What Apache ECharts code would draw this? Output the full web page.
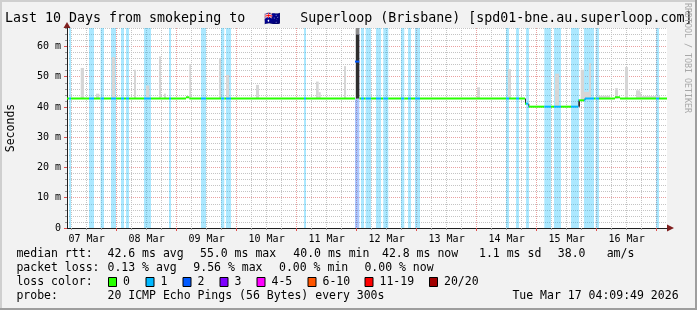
<!DOCTYPE html>
<html><head><meta charset="utf-8">
<script src="https://cdn.jsdelivr.net/npm/echarts@6/dist/echarts.min.js"></script>
<style>html,body{margin:0;padding:0;background:#f2f2f2}#c{width:697px;height:310px}</style>
</head><body><div id="c"></div>
<script>
// ---- time axis: hours since 07 Mar 00:00 ----
const START_H = 4.1636, END_H = 244.1636, Y_MAX = 66.1;
const dayLabels = ['07 Mar','08 Mar','09 Mar','10 Mar','11 Mar','12 Mar','13 Mar','14 Mar','15 Mar','16 Mar'];
const dayLabelHours = [12,36,60,84,108,132,156,180,204,228];
const midnightHours = [24,48,72,96,120,144,168,192,216,240];
const sixHourHours = [6,12,18,30,36,42,54,60,66,78,84,90,102,108,114,126,132,138,150,156,162,174,180,186,198,204,210,222,228,234];
const yMajorTicks = [0,10,20,30,40,50,60];
const yMinorTicks = [2,4,6,8,12,14,16,18,22,24,26,28,32,34,36,38,42,44,46,48,52,54,56,58,62,64,66];

// loss colours (smokeping)
const lossNames  = ['0','1','2','3','4-5','6-10','11-19','20/20'];
const lossColors = ['#26ff00','#00b8ff','#0059ff','#7e00ff','#ff00ff','#ff5500','#ff0000','#a10000'];
const lossBgColors = ['rgba(38,255,0,0)','rgba(0,184,255,0.33)','rgba(0,89,255,0.33)','rgba(126,0,255,0.33)'];

// packet-loss periods [start h, end h, loss level]
const lossBands = [
 [4.96,5.76,1],[12.96,14.96,1],[17.6,18.96,1],[21.76,23.76,1],[25.76,26.96,1],[27.76,28.96,1],
 [34.96,37.76,1],[44.96,45.76,1],[57.76,59.76,1],[65.76,67.08,1],[67.76,69.76,1],
 [98.96,99.76,1],[119.36,121.08,2],[121.76,122.96,1],[123.64,125.76,1],[127.76,129.76,1],[130.68,132.68,1],
 [137.76,139.08,1],[140.56,141.76,1],[143.36,145.36,1],
 [179.76,180.96,1],[183.76,184.96,1],[187.76,188.96,1],[195.08,197.76,1],[198.96,201.76,1],
 [205.76,208.96,1],[210.96,214.96,1],[215.64,216.96,1],[239.76,240.96,1]
];

// median rtt (ms) [start h, end h, value]
const medianSegs = [
 [4.1636,51.76,42.8],[51.76,53.08,43.2],[53.08,119.36,42.8],[119.36,121.08,55.0],
 [121.08,187.36,42.8],[187.36,188.68,41.1],[188.68,208.68,40.1],[208.68,211.36,42.2],
 [211.36,223.36,42.8],[223.36,225.36,43.2],[225.36,244.1636,42.8]
];

// smoke (ping spread) [start h, end h, low ms, high ms, shade 0 light / 1 mid / 2 dark]
const smoke = [
 [9.64,10.96,42.8,52.9,0],[15.76,17.08,42.8,44.4,0],[22.04,23.36,42.8,56.5,0],[30.96,31.76,42.8,52.3,0],
 [35.76,37.08,42.8,47.1,0],[40.96,41.76,42.8,56.7,0],[42.96,43.76,42.8,44.4,0],[53.08,53.76,42.8,54.2,0],
 [64.96,65.76,42.8,56.2,0],[67.76,68.96,42.8,50.6,0],[79.76,80.96,42.8,47.3,0],[103.76,104.84,42.8,48.4,0],
 [104.84,105.64,42.8,44.9,0],[114.96,115.76,42.8,53.5,0],
 [119.36,119.76,42.8,66.1,0],[119.76,121.08,42.8,64.0,2],[119.76,121.08,64.0,66.1,1],
 [168.16,169.36,42.8,46.5,0],
 [180.56,181.76,42.8,52.5,0],[199.36,200.96,40.1,51.0,0],[209.64,210.96,42.2,52.3,0],[210.96,213.36,42.8,45.0,0],
 [212.96,213.76,42.8,54.5,0],[216.56,221.36,42.8,43.7,0],[223.36,224.56,42.8,46.2,0],[227.36,228.56,42.8,53.2,0],
 [231.76,233.36,42.8,45.5,0],[232.96,233.76,42.8,44.8,0],[233.76,241.36,42.8,43.6,0],
 [187.36,187.76,41.1,42.8,2],[188.68,189.08,40.1,41.1,2],[208.68,209.36,40.1,42.2,2],[211.16,211.56,42.2,42.8,2]
];
const smokeShades = ['#d6d6d6','#8c8c8c','#2e2e2e'];

// legend / statistics text
const statRows = [
 [['median rtt:',16.4],['42.6 ms avg',107.5],['55.0 ms max',200],['40.0 ms min',293.3],['42.8 ms now',382],['1.1 ms sd',479],['38.0',557.8],['am/s',606.7]],
 [['packet loss:',16.4],['0.13 % avg',107.5],['9.56 % max',193.3],['0.00 % min',279],['0.00 % now',364.4]],
 [['loss color:',16.4]],
 [['probe:',16.4],['20 ICMP Echo Pings (56 Bytes) every 300s',107.5],['Tue Mar 17 04:09:49 2026',512.4]]
];
const swatchX = [108,145.5,182.5,219.5,256.5,307.5,364.5,429];
const titleParts = ['Last 10 Days from smokeping to ','🇦🇺',' Superloop (Brisbane) [spd01-bne.au.superloop.com]'];

// ---- derived: split median by loss level ----
function lossAt(t){ for(const b of lossBands){ if(t>=b[0]&&t<b[1]) return b[2]; } return 0; }
const medianPieces = [];
medianSegs.forEach(s=>{
  const cuts=[s[0],s[1]];
  lossBands.forEach(b=>{ if(b[0]>s[0]&&b[0]<s[1]) cuts.push(b[0]); if(b[1]>s[0]&&b[1]<s[1]) cuts.push(b[1]); });
  cuts.sort((a,b)=>a-b);
  for(let i=0;i<cuts.length-1;i++){ const m=(cuts[i]+cuts[i+1])/2; medianPieces.push([cuts[i],cuts[i+1],s[2],lossAt(m)]); }
});

const MONO = '"DejaVu Sans Mono", monospace';
const chart = echarts.init(document.getElementById('c'), null, {renderer:'canvas'});

const G = {left:67, top:28, width:600, height:200};
const gridLineGray = {show:true, lineStyle:{color:'#c4c4c4', width:1, type:[1,1]}};
const gridLineRed  = {show:true, lineStyle:{color:'#eaa0a0', width:1, type:[1,1]}};

const graphic = [];
graphic.push({type:'rect', shape:{x:0,y:0,width:697,height:2}, style:{fill:'#cfcfcf'}, silent:true});
graphic.push({type:'rect', shape:{x:0,y:0,width:2,height:310}, style:{fill:'#cfcfcf'}, silent:true});
graphic.push({type:'rect', shape:{x:0,y:308,width:697,height:2}, style:{fill:'#9e9e9e'}, silent:true});
graphic.push({type:'rect', shape:{x:695,y:0,width:2,height:310}, style:{fill:'#9e9e9e'}, silent:true});
graphic.push({type:'text', x:5, y:19, style:{
  text:'{a|'+titleParts[0]+'}{f|'+titleParts[1]+'}{a|'+titleParts[2]+'}',
  font:'13.3px '+MONO, fill:'#000', textVerticalAlign:'middle',
  rich:{a:{fontFamily:'DejaVu Sans Mono', fontSize:13.3, color:'#000'},
        f:{fontSize:13.3, width:39, align:'center', color:'#000'}}}});
graphic.push({type:'text', x:11, y:128, rotation:Math.PI/2, style:{text:'Seconds', font:'11.5px '+MONO, fill:'#000', textAlign:'center', textVerticalAlign:'middle'}});
graphic.push({type:'text', x:687, y:58, rotation:-Math.PI/2, style:{text:'RRDTOOL / TOBI OETIKER', font:'8.3px '+MONO, fill:'#a8a8a8', textAlign:'center', textVerticalAlign:'middle'}});
graphic.push({type:'polygon', shape:{points:[[63.5,28],[70.5,28],[67,22]]}, style:{fill:'#7f1f1f'}});
graphic.push({type:'polygon', shape:{points:[[667,224.5],[667,231.5],[674,228]]}, style:{fill:'#7f1f1f'}});
const rowY = [254,268,282,296];
statRows.forEach((row,ri)=>row.forEach(c=>{
  graphic.push({type:'text', x:c[1], y:rowY[ri], style:{text:c[0], font:'11.5px '+MONO, fill:'#000', textVerticalAlign:'middle'}});
}));
lossNames.forEach((n,i)=>{
  graphic.push({type:'rect', shape:{x:swatchX[i]+0.5,y:277.5,width:8,height:9}, style:{fill:lossColors[i], stroke:'#000', lineWidth:1}});
  graphic.push({type:'text', x:swatchX[i]+15, y:282, style:{text:n, font:'11.5px '+MONO, fill:'#000', textVerticalAlign:'middle'}});
});

const option = {
  animation:false,
  backgroundColor:'#f2f2f2',
  grid:{left:G.left, top:G.top, width:G.width, height:G.height, backgroundColor:'#ffffff', show:true, borderWidth:0},
  xAxis:[
    {type:'value', min:START_H, max:END_H, gridIndex:0,
     axisLine:{show:true, lineStyle:{color:'#1f1f1f', width:1}},
     axisTick:{show:true, length:3, customValues:midnightHours, lineStyle:{color:'#de4f4f'}},
     splitLine:gridLineRed,
     axisLabel:{show:true, customValues:dayLabelHours, margin:6, fontFamily:'DejaVu Sans Mono', fontSize:10, color:'#000',
       formatter:v=>{const i=dayLabelHours.indexOf(Math.round(v)); return i>=0?dayLabels[i]:'';}}},
    {type:'value', min:START_H, max:END_H, gridIndex:0, position:'bottom',
     axisLine:{show:false}, axisLabel:{show:false},
     axisTick:{show:true, length:2, customValues:sixHourHours, lineStyle:{color:'#9a9a9a'}},
     splitLine:gridLineGray}
  ],
  yAxis:[
    {type:'value', min:0, max:Y_MAX, gridIndex:0,
     axisLine:{show:true, lineStyle:{color:'#1f1f1f', width:1}},
     axisTick:{show:true, length:3, customValues:yMajorTicks, lineStyle:{color:'#de4f4f'}},
     splitLine:gridLineRed,
     axisLabel:{show:true, customValues:yMajorTicks, margin:6, fontFamily:'DejaVu Sans Mono', fontSize:10, color:'#000',
       formatter:v=>v===0?'0':(v+' m')}},
    {type:'value', min:0, max:Y_MAX, gridIndex:0, position:'left',
     axisLine:{show:false}, axisLabel:{show:false},
     axisTick:{show:true, length:2, customValues:yMinorTicks, lineStyle:{color:'#9a9a9a'}},
     splitLine:gridLineGray}
  ],
  series:[
    {type:'custom', name:'loss', xAxisIndex:0, yAxisIndex:0, clip:true, z:1,
     encode:{x:[0,1], y:2}, data:lossBands,
     renderItem:(p,api)=>{
       const a=api.coord([api.value(0),Y_MAX]), b=api.coord([api.value(1),0]);
       return {type:'rect', shape:{x:a[0],y:a[1],width:b[0]-a[0],height:b[1]-a[1]}, style:{fill:lossBgColors[api.value(2)]}};
     }},
    {type:'custom', name:'smoke', xAxisIndex:0, yAxisIndex:0, clip:true, z:2,
     encode:{x:[0,1], y:[2,3]}, data:smoke,
     renderItem:(p,api)=>{
       const a=api.coord([api.value(0),api.value(3)]), b=api.coord([api.value(1),api.value(2)]);
       return {type:'rect', shape:{x:a[0],y:a[1],width:b[0]-a[0],height:b[1]-a[1]}, style:{fill:smokeShades[api.value(4)]}};
     }},
    {type:'custom', name:'median rtt', xAxisIndex:0, yAxisIndex:0, clip:true, z:3,
     encode:{x:[0,1], y:2}, data:medianPieces,
     renderItem:(p,api)=>{
       const a=api.coord([api.value(0),api.value(2)]), b=api.coord([api.value(1),api.value(2)]);
       return {type:'rect', shape:{x:a[0],y:a[1]-1,width:b[0]-a[0],height:2}, style:{fill:lossColors[api.value(3)]}};
     }}
  ],
  graphic:graphic
};
chart.setOption(option);
</script>
</body></html>
